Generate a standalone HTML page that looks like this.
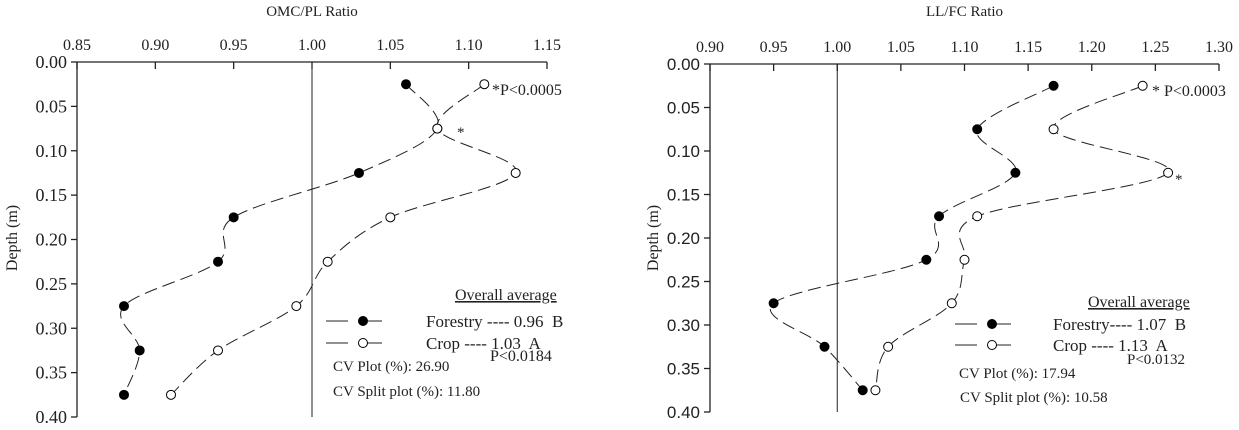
<!DOCTYPE html>
<html><head><meta charset="utf-8">
<style>
html,body{margin:0;padding:0;background:#fff;}
svg{display:block;}
text{fill:#222;white-space:pre;}
</style></head>
<body>
<svg id="c" width="1239" height="430" viewBox="0 0 1239 430"></svg>
<script>
const depths = [0.025,0.075,0.125,0.175,0.225,0.275,0.325,0.375];
const omcForestry = [1.06,1.08,1.03,0.95,0.94,0.88,0.89,0.88];
const omcCrop = [1.11,1.08,1.13,1.05,1.01,0.99,0.94,0.91];
const llForestry = [1.17,1.11,1.14,1.08,1.07,0.95,0.99,1.02];
const llCrop = [1.24,1.17,1.26,1.11,1.10,1.09,1.04,1.03];
const omcTicks = ["0.85","0.90","0.95","1.00","1.05","1.10","1.15"];
const llTicks = ["0.90","0.95","1.00","1.05","1.10","1.15","1.20","1.25","1.30"];
const depthTicks = ["0.00","0.05","0.10","0.15","0.20","0.25","0.30","0.35","0.40"];

const SERIF='"Liberation Serif", serif';
const SANS='"Liberation Sans", sans-serif';
const NS="http://www.w3.org/2000/svg";
const svg=document.getElementById('c');
function mk(tag,attrs,parent,txt){const e=document.createElementNS(NS,tag);for(const k in attrs)e.setAttribute(k,attrs[k]);if(txt!==undefined)e.textContent=txt;(parent||svg).appendChild(e);return e;}

function smooth(pts){
  let d="M"+pts[0][0]+","+pts[0][1];
  for(let i=0;i<pts.length-1;i++){
    const p0=pts[i-1]||pts[i],p1=pts[i],p2=pts[i+1],p3=pts[i+2]||p2;
    const t=0.5/3;
    const c1=[p1[0]+(p2[0]-p0[0])*t,p1[1]+(p2[1]-p0[1])*t];
    const c2=[p2[0]-(p3[0]-p1[0])*t,p2[1]-(p3[1]-p1[1])*t];
    d+=" C"+c1[0]+","+c1[1]+" "+c2[0]+","+c2[1]+" "+p2[0]+","+p2[1];
  }
  return d;
}

function chart(o){
  const g=mk('g',{});
  
  
  const xs=v=>o.x0+(v-o.xmin)/(o.xmax-o.xmin)*(o.x1-o.x0);
  const ys=v=>o.y0+v/0.4*(o.y1-o.y0);
  const t=mk('text',{x:(o.x0+o.x1)/2,y:16,'text-anchor':'middle','font-size':15,'font-family':SERIF},g,o.title);
  
  mk('line',{x1:o.x0,y1:o.y0,x2:o.x1,y2:o.y0,stroke:'#222','stroke-width':1.3},g);
  o.ticks.forEach(s=>{const x=xs(parseFloat(s));
    mk('line',{x1:x,y1:o.y0,x2:x,y2:o.y0+7,stroke:'#222','stroke-width':1.3},g);
    const tl=mk('text',{x:x,y:o.y0-12,'text-anchor':'middle','font-size':16,'font-family':SERIF},g,s);
    });
  mk('line',{x1:o.x0,y1:o.y0,x2:o.x0,y2:o.y1,stroke:'#222','stroke-width':1.3},g);
  depthTicks.forEach(s=>{const y=ys(parseFloat(s));
    mk('line',{x1:o.x0-6,y1:y,x2:o.x0,y2:y,stroke:'#222','stroke-width':1.3},g);
    const tl=mk('text',{x:o.x0-10,y:y+6,'text-anchor':'end','font-size':o.ysans?17:18,'font-family':o.ysans?SANS:SERIF},g,s);
    });
  const yt=mk('text',{x:o.ytx,y:238,'text-anchor':'middle','font-size':16,'font-family':SERIF,transform:'rotate(-90 '+o.ytx+' 238)'},g,'Depth (m)');
  
  mk('line',{x1:xs(1),y1:o.y0,x2:xs(1),y2:o.y1,stroke:'#222','stroke-width':1},g);
  [[o.forestry,'#000','forestry'],[o.crop,'#fff','crop']].forEach(([vals,fill,nm])=>{
    const pts=vals.map((v,i)=>[xs(v),ys(depths[i])]);
    const p=mk('path',{d:smooth(pts),fill:'none',stroke:'#222','stroke-width':1,'stroke-dasharray':'13,6'},g);
    
  });
  [[o.forestry,'#000','forestry'],[o.crop,'#fff','crop']].forEach(([vals,fill,nm])=>{
    vals.forEach((v,i)=>{const c=mk('circle',{cx:xs(v),cy:ys(depths[i]),r:4.5,fill:fill,stroke:'#000','stroke-width':1},g);
      });
  });
  return {g,xs,ys};
}

const L=chart({name:'omc-pl-chart',title:'OMC/PL Ratio',x0:77,x1:547,y0:62,y1:417,xmin:0.85,xmax:1.15,ticks:omcTicks,crop:omcCrop,forestry:omcForestry,ytx:17,ysans:false});
const R=chart({name:'ll-fc-chart',title:'LL/FC Ratio',x0:710,x1:1219,y0:64,y1:412,xmin:0.90,xmax:1.30,ticks:llTicks,crop:llCrop,forestry:llForestry,ytx:658,ysans:true});

function txt(g,x,y,s,size,name,extra){const t=mk('text',Object.assign({x:x,y:y,'font-size':size||14,'font-family':SERIF},extra||{}),g,s);return t;}
function legendKey(g,x,y,fill,name){
  const k=mk('g',{},g);
  mk('line',{x1:x,y1:y,x2:x+68,y2:y,stroke:'#222','stroke-width':1,'stroke-dasharray':'22,12'},k);
  mk('circle',{cx:x+37,cy:y,r:4.5,fill:fill,stroke:'#000'},k);
}
// left annotations
txt(L.g,492,95,'*P<0.0005',16,'p-value-top');
txt(L.g,457,137,'*',15,'significance-star');
txt(L.g,455,300,'Overall average',16,'legend-title',{'text-decoration':'underline'});
legendKey(L.g,326,321,'#000','legend-forestry-key');
legendKey(L.g,326,343,'#fff','legend-crop-key');
txt(L.g,426,327,'Forestry ---- 0.96  B',17,'legend-forestry');
txt(L.g,426,349,'Crop ---- 1.03  A',17,'legend-crop');
txt(L.g,490,361,'P<0.0184',16,'p-value-legend');
txt(L.g,333,371,'CV Plot (%): 26.90',15,'cv-plot');
txt(L.g,333,396,'CV Split plot (%): 11.80',15,'cv-split-plot');
// right annotations
txt(R.g,1152,96,'* P<0.0003',16,'p-value-top');
txt(R.g,1175,184,'*',15,'significance-star');
txt(R.g,1088,307,'Overall average',16,'legend-title',{'text-decoration':'underline'});
legendKey(R.g,955,324,'#000','legend-forestry-key');
legendKey(R.g,955,345,'#fff','legend-crop-key');
txt(R.g,1053,330,'Forestry---- 1.07  B',17,'legend-forestry');
txt(R.g,1053,351,'Crop ---- 1.13  A',17,'legend-crop');
txt(R.g,1127,364,'P<0.0132',15,'p-value-legend');
txt(R.g,959,378,'CV Plot (%): 17.94',15,'cv-plot');
txt(R.g,960,402,'CV Split plot (%): 10.58',15,'cv-split-plot');
</script>
</body></html>
